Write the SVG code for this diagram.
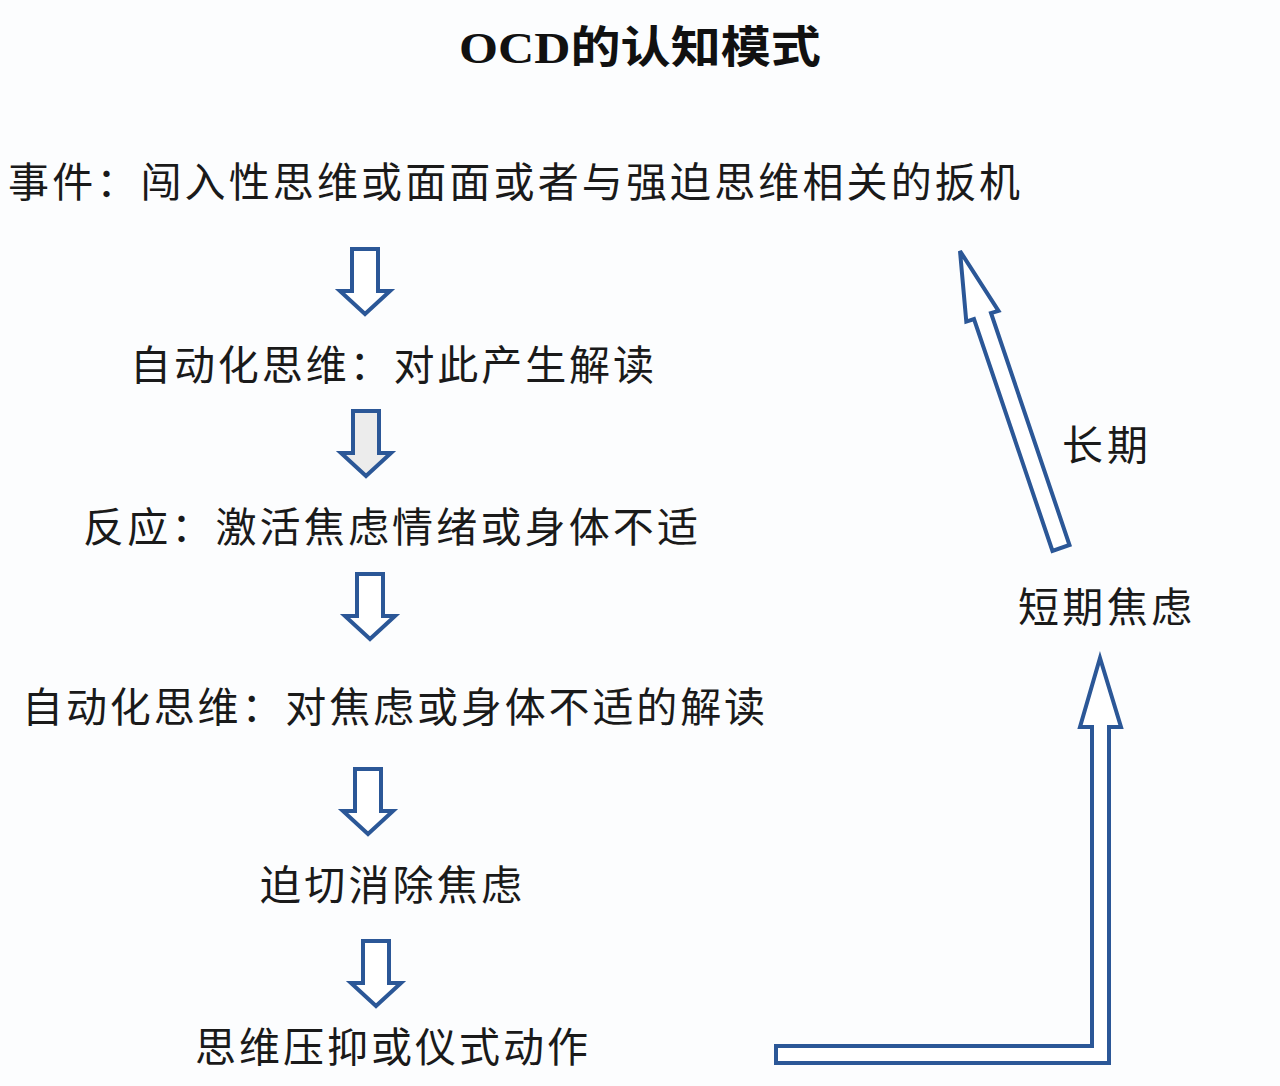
<svg xmlns="http://www.w3.org/2000/svg" width="1280" height="1086" viewBox="0 0 1280 1086">
<style>
.t{font-family:"Noto Sans CJK SC","Noto Sans",sans-serif;font-size:41px;fill:#1a1a1a}
.a{fill:#fff;stroke:#2b5797;stroke-width:4;stroke-linejoin:miter}
</style>
<defs>
<path id="dn" d="M-13,0 H13 V42 H25 L0,65 L-25,42 H-13 Z"/>
</defs>
<rect width="1280" height="1086" fill="#fcfdfe"/>
<g id="title"><text x="640" y="63" text-anchor="middle" font-family="'Liberation Serif','Noto Sans CJK SC',serif" font-weight="bold" font-size="44" fill="#111" textLength="362" lengthAdjust="spacingAndGlyphs">OCD的认知模式</text></g>
<g id="n1"><text class="t" x="8" y="197" textLength="1012">事件：闯入性思维或面面或者与强迫思维相关的扳机</text></g>
<g id="n2"><text class="t" x="130" y="380" textLength="524">自动化思维：对此产生解读</text></g>
<g id="n3"><text class="t" x="83" y="542" textLength="615">反应：激活焦虑情绪或身体不适</text></g>
<g id="n4"><text class="t" x="22" y="722" textLength="743">自动化思维：对焦虑或身体不适的解读</text></g>
<g id="n5"><text class="t" x="260" y="900" textLength="262">迫切消除焦虑</text></g>
<g id="n6"><text class="t" x="195" y="1062" textLength="393">思维压抑或仪式动作</text></g>
<g id="n7"><text class="t" x="1018" y="622" textLength="174">短期焦虑</text></g>
<g id="n8"><text class="t" x="1062" y="460" textLength="86">长期</text></g>
<g id="connectors">
<use href="#dn" class="a" transform="translate(365,249)"/>
<use href="#dn" class="a" style="fill:#ececec" transform="translate(366,411)"/>
<use href="#dn" class="a" transform="translate(370,574)"/>
<use href="#dn" class="a" transform="translate(368,769)"/>
<use href="#dn" class="a" transform="translate(376,941)"/>
<path class="a" d="M776,1046 H1092 V727 H1080 L1100,658 L1121,727 H1109 V1063 H776 Z"/>
<path class="a" d="M1052.5,551 L974,319 L966.3,321.6 L960,251 L998.5,310.8 L991,313 L1069.5,545 Z"/>
</g>
</svg>
